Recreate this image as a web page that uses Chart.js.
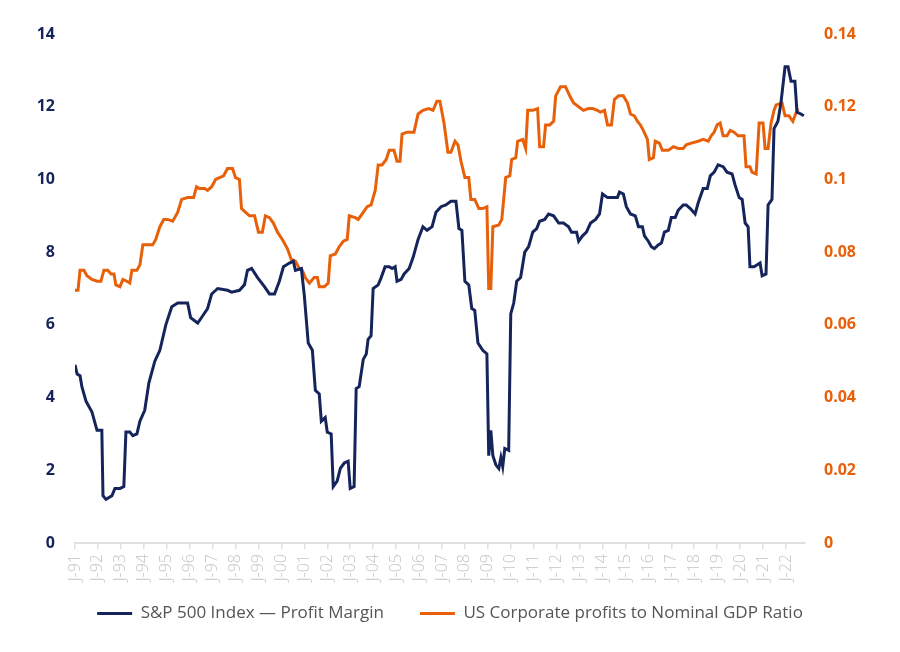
<!DOCTYPE html>
<html>
<head>
<meta charset="utf-8">
<script src="https://cdn.jsdelivr.net/npm/chart.js@4.4.1/dist/chart.umd.min.js"></script>
<style>
  html, body { margin: 0; padding: 0; background: #fff; }
  #wrap { width: 900px; height: 652px; }
</style>
</head>
<body>
<div id="wrap"><canvas id="chart" width="900" height="652"></canvas></div>
<script>
// S&P 500 profit margin (%), dates as decimal years
const spDates = [
  1991.00, 1991.09, 1991.22, 1991.30, 1991.48, 1991.74, 1991.96, 1992.17, 1992.22, 1992.35,
  1992.61, 1992.74, 1992.96, 1993.13, 1993.22, 1993.39, 1993.52, 1993.70, 1993.83, 1994.04,
  1994.22, 1994.48, 1994.70, 1994.96, 1995.22, 1995.48, 1995.91, 1996.04, 1996.35, 1996.57,
  1996.78, 1996.96, 1997.22, 1997.65, 1997.83, 1998.17, 1998.39, 1998.52, 1998.70, 1998.96,
  1999.26, 1999.48, 1999.70, 1999.91, 2000.09, 2000.35, 2000.52, 2000.61, 2000.87, 2001.00,
  2001.17, 2001.35, 2001.48, 2001.65, 2001.74, 2001.91, 2002.00, 2002.17, 2002.26, 2002.43,
  2002.57, 2002.74, 2002.91, 2003.00, 2003.17, 2003.26, 2003.39, 2003.57, 2003.70, 2003.78,
  2003.91, 2004.00, 2004.22, 2004.35, 2004.52, 2004.70, 2004.83, 2004.96, 2005.04, 2005.22,
  2005.35, 2005.57, 2005.74, 2005.96, 2006.17, 2006.35, 2006.57, 2006.74, 2006.96, 2007.17,
  2007.39, 2007.61, 2007.74, 2007.87, 2008.00, 2008.17, 2008.30, 2008.43, 2008.57, 2008.78,
  2008.96, 2009.04, 2009.13, 2009.22, 2009.35, 2009.48, 2009.57, 2009.65, 2009.74, 2009.91,
  2010.00, 2010.13, 2010.26, 2010.43, 2010.61, 2010.78, 2010.96, 2011.13, 2011.26, 2011.48,
  2011.65, 2011.87, 2012.09, 2012.30, 2012.52, 2012.65, 2012.87, 2012.96, 2013.13, 2013.30,
  2013.48, 2013.70, 2013.87, 2014.00, 2014.22, 2014.43, 2014.65, 2014.74, 2014.91, 2015.04,
  2015.22, 2015.43, 2015.57, 2015.74, 2015.83, 2016.00, 2016.13, 2016.26, 2016.43, 2016.57,
  2016.70, 2016.87, 2017.00, 2017.17, 2017.30, 2017.52, 2017.65, 2017.83, 2018.04, 2018.17,
  2018.39, 2018.57, 2018.70, 2018.87, 2019.04, 2019.26, 2019.43, 2019.65, 2019.78, 2019.96,
  2020.09, 2020.22, 2020.35, 2020.43, 2020.61, 2020.87, 2020.96, 2021.13, 2021.22, 2021.39,
  2021.48, 2021.65, 2021.78, 2021.96, 2022.09, 2022.22, 2022.39, 2022.48, 2022.65, 2022.78
];
const spMargin = [
  4.9, 4.65, 4.6, 4.3, 3.9, 3.6, 3.1, 3.1, 1.3, 1.2,
  1.3, 1.5, 1.5, 1.55, 3.05, 3.05, 2.95, 3.0, 3.35, 3.65,
  4.4, 5.0, 5.3, 6.0, 6.5, 6.6, 6.6, 6.2, 6.05, 6.25,
  6.45, 6.85, 7.0, 6.95, 6.9, 6.95, 7.1, 7.5, 7.55, 7.3,
  7.05, 6.85, 6.85, 7.2, 7.6, 7.7, 7.75, 7.5, 7.55, 6.8,
  5.5, 5.3, 4.2, 4.1, 3.35, 3.45, 3.05, 3.0, 1.55, 1.7,
  2.05, 2.2, 2.25, 1.5, 1.55, 4.25, 4.3, 5.05, 5.2, 5.6,
  5.7, 7.0, 7.1, 7.3, 7.6, 7.6, 7.55, 7.6, 7.2, 7.25,
  7.4, 7.55, 7.85, 8.35, 8.7, 8.6, 8.7, 9.1, 9.25, 9.3,
  9.4, 9.4, 8.65, 8.6, 7.2, 7.1, 6.45, 6.4, 5.5, 5.3,
  5.2, 2.4, 3.1, 2.4, 2.15, 2.05, 2.35, 2.1, 2.6, 2.55,
  6.3, 6.6, 7.2, 7.3, 8.0, 8.15, 8.55, 8.65, 8.85, 8.9,
  9.05, 9.0, 8.8, 8.8, 8.7, 8.55, 8.55, 8.3, 8.45, 8.55,
  8.8, 8.9, 9.05, 9.6, 9.5, 9.5, 9.5, 9.65, 9.6, 9.25,
  9.05, 9.0, 8.7, 8.7, 8.45, 8.3, 8.15, 8.1, 8.2, 8.25,
  8.55, 8.6, 8.95, 8.95, 9.15, 9.3, 9.3, 9.2, 9.05, 9.35,
  9.75, 9.75, 10.1, 10.2, 10.4, 10.35, 10.2, 10.15, 9.85, 9.5,
  9.45, 8.8, 8.7, 7.6, 7.6, 7.7, 7.35, 7.4, 9.3, 9.45,
  11.4, 11.6, 12.1, 13.1, 13.1, 12.7, 12.7, 11.85, 11.8, 11.75
];

// US corporate profits / nominal GDP (in %, divided by 100 when plotted)
const gdpDates = [
  1991.00, 1991.13, 1991.22, 1991.39, 1991.52, 1991.74, 1991.96, 1992.13, 1992.26, 1992.43,
  1992.57, 1992.70, 1992.78, 1992.96, 1993.09, 1993.26, 1993.39, 1993.48, 1993.70, 1993.83,
  1993.96, 1994.26, 1994.39, 1994.52, 1994.70, 1994.87, 1995.04, 1995.26, 1995.48, 1995.65,
  1995.91, 1996.17, 1996.30, 1996.43, 1996.65, 1996.78, 1996.96, 1997.13, 1997.30, 1997.48,
  1997.65, 1997.87, 1998.00, 1998.17, 1998.26, 1998.43, 1998.61, 1998.83, 1999.00, 1999.17,
  1999.30, 1999.48, 1999.65, 1999.83, 2000.04, 2000.26, 2000.43, 2000.61, 2000.78, 2000.91,
  2001.04, 2001.22, 2001.43, 2001.57, 2001.65, 2001.87, 2002.04, 2002.13, 2002.35, 2002.52,
  2002.70, 2002.87, 2002.96, 2003.22, 2003.35, 2003.52, 2003.74, 2003.91, 2004.09, 2004.22,
  2004.39, 2004.57, 2004.70, 2004.91, 2005.04, 2005.17, 2005.26, 2005.48, 2005.78, 2005.96,
  2006.17, 2006.43, 2006.61, 2006.78, 2006.91, 2007.09, 2007.26, 2007.39, 2007.57, 2007.70,
  2007.83, 2008.00, 2008.17, 2008.26, 2008.43, 2008.61, 2008.78, 2008.96, 2009.04, 2009.13,
  2009.22, 2009.48, 2009.61, 2009.78, 2009.96, 2010.04, 2010.22, 2010.30, 2010.52, 2010.65,
  2010.74, 2010.96, 2011.17, 2011.26, 2011.43, 2011.52, 2011.70, 2011.87, 2011.96, 2012.17,
  2012.39, 2012.57, 2012.74, 2012.96, 2013.17, 2013.39, 2013.57, 2013.78, 2013.91, 2014.09,
  2014.22, 2014.39, 2014.52, 2014.70, 2014.91, 2015.09, 2015.22, 2015.39, 2015.52, 2015.65,
  2015.78, 2015.96, 2016.04, 2016.22, 2016.30, 2016.48, 2016.61, 2016.87, 2017.09, 2017.30,
  2017.52, 2017.65, 2017.87, 2018.17, 2018.39, 2018.61, 2018.74, 2018.87, 2019.00, 2019.13,
  2019.26, 2019.43, 2019.57, 2019.74, 2019.91, 2020.17, 2020.26, 2020.43, 2020.52, 2020.70,
  2020.83, 2021.00, 2021.09, 2021.22, 2021.35, 2021.48, 2021.57, 2021.83, 2021.96, 2022.13,
  2022.30, 2022.39, 2022.52
];
const gdpRatio = [
  6.95, 6.95, 7.5, 7.5, 7.35, 7.25, 7.2, 7.2, 7.5, 7.5,
  7.4, 7.4, 7.1, 7.05, 7.25, 7.2, 7.15, 7.5, 7.5, 7.65,
  8.2, 8.2, 8.2, 8.35, 8.7, 8.9, 8.9, 8.85, 9.1, 9.45,
  9.5, 9.5, 9.8, 9.75, 9.75, 9.7, 9.8, 10.0, 10.05, 10.1,
  10.3, 10.3, 10.05, 10.0, 9.2, 9.1, 9.0, 9.0, 8.55, 8.55,
  9.0, 8.95, 8.8, 8.55, 8.35, 8.1, 7.8, 7.75, 7.55, 7.5,
  7.3, 7.15, 7.3, 7.3, 7.05, 7.05, 7.15, 7.9, 7.95, 8.15,
  8.3, 8.35, 9.0, 8.95, 8.9, 9.05, 9.25, 9.3, 9.7, 10.4,
  10.4, 10.55, 10.8, 10.8, 10.5, 10.5, 11.25, 11.3, 11.3, 11.8,
  11.9, 11.95, 11.9, 12.15, 12.15, 11.55, 10.75, 10.75, 11.05, 10.95,
  10.5, 10.05, 10.05, 9.45, 9.45, 9.2, 9.2, 9.25, 7.0, 7.0,
  8.7, 8.75, 8.9, 10.05, 10.1, 10.55, 10.6, 11.05, 11.1, 10.85,
  11.9, 11.9, 11.95, 10.9, 10.9, 11.5, 11.5, 11.6, 12.3, 12.55,
  12.55, 12.3, 12.1, 12.0, 11.9, 11.95, 11.95, 11.9, 11.85, 11.9,
  11.5, 11.5, 12.2, 12.3, 12.3, 12.1, 11.8, 11.75, 11.6, 11.5,
  11.35, 11.1, 10.55, 10.6, 11.05, 11.0, 10.8, 10.8, 10.9, 10.85,
  10.85, 10.95, 11.0, 11.05, 11.1, 11.05, 11.2, 11.3, 11.5, 11.55,
  11.2, 11.2, 11.35, 11.3, 11.2, 11.2, 10.35, 10.35, 10.2, 10.15,
  11.55, 11.55, 10.85, 10.85, 11.55, 11.9, 12.05, 12.1, 11.75, 11.75,
  11.6, 11.75, 11.95
];

const navy = '#15245a';
const orange = '#e8600a';

function toPoints(xs, ys, scale) {
    let pts = [];
    for (let i = 0; i < xs.length; i++)
        pts.push({ x: xs[i], y: ys[i] * scale });
    return pts;
}

// pull the legend up a bit, its padding is only there for the gap between items
const legendShift = {
    id: 'legendShift',
    afterLayout(chart) {
        chart.legend.top -= 14;
        chart.legend.bottom -= 14;
    }
};

const data = {
    datasets: [{
            label: 'S&P 500 Index \u2014 Profit Margin',
            data: toPoints(spDates, spMargin, 1),
            borderColor: navy,
            backgroundColor: navy,
            borderWidth: 3,
            pointRadius: 0,
            tension: 0,
            yAxisID: 'y'
        }, {
            label: 'US Corporate profits to Nominal GDP Ratio',
            data: toPoints(gdpDates, gdpRatio, 0.01),
            borderColor: orange,
            backgroundColor: orange,
            borderWidth: 3,
            pointRadius: 0,
            tension: 0,
            yAxisID: 'y1'
        }]
};

const config = {
    type: 'line',
    data: data,
    plugins: [legendShift],
    options: {
        responsive: false,
        animation: false,
        layout: { padding: { top: 34, left: 0, right: 0, bottom: 6 } },
        plugins: {
            tooltip: { enabled: false },
            legend: {
                position: 'bottom',
                labels: {
                    usePointStyle: true,
                    pointStyle: 'line',
                    pointStyleWidth: 35,
                    padding: 36,
                    color: '#555555',
                    font: { family: 'Open Sans', size: 17 }
                }
            }
        },
        scales: {
            x: {
                type: 'linear',
                min: 1991,
                max: 2022.83,
                afterBuildTicks: s => {
                    s.ticks = s.ticks.filter(t => Number.isInteger(t.value));
                },
                ticks: {
                    stepSize: 1,
                    autoSkip: false,
                    minRotation: 90,
                    maxRotation: 90,
                    color: '#c4c4c4',
                    padding: 5,
                    font: { family: 'Open Sans', size: 16, weight: '300' },
                    callback: v => 'J-' + String(v).slice(2)
                },
                grid: { drawOnChartArea: false, tickLength: 6, color: '#e0e0e0', lineWidth: 1.5 },
                border: { color: '#e0e0e0', width: 2 },
                afterFit: s => { s.height = 40; }
            },
            y: {
                position: 'left',
                min: 0,
                max: 14,
                ticks: {
                    stepSize: 2,
                    color: navy,
                    padding: 12,
                    font: { family: 'Open Sans', size: 16, weight: 'bold' }
                },
                grid: { display: false },
                border: { display: false },
                afterFit: s => { s.width = 75; }
            },
            y1: {
                position: 'right',
                min: 0,
                max: 0.14,
                ticks: {
                    stepSize: 0.02,
                    color: orange,
                    padding: 11,
                    font: { family: 'Open Sans', size: 16, weight: 'bold' },
                    callback: v => String(+v.toFixed(2))
                },
                grid: { display: false },
                border: { display: false },
                afterFit: s => { s.width = 95; }
            }
        }
    }
};

let ctx = document.getElementById('chart').getContext('2d');
new Chart(ctx, config);
</script>
</body>
</html>
